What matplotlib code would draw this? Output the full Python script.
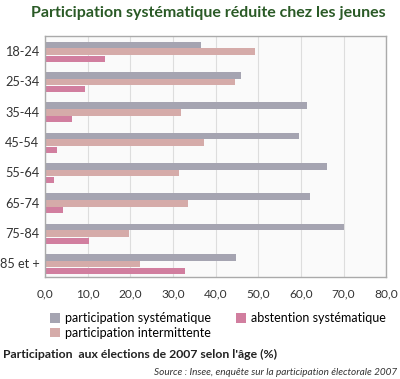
import numpy as np
import matplotlib.pyplot as plt

# data
ages = ['18-24', '25-34', '35-44', '45-54', '55-64', '65-74', '75-84', '85 et +']
particip_syst = [36.6, 46.0, 61.5, 59.6, 66.2, 62.1, 70.0, 44.8]
particip_inter = [49.2, 44.6, 31.9, 37.3, 31.4, 33.6, 19.6, 22.3]
abstention = [14.1, 9.3, 6.4, 2.9, 2.2, 4.2, 10.2, 32.9]
xticks = [0, 10, 20, 30, 40, 50, 60, 70, 80]

plt.rcParams['font.family'] = ['Lato', 'DejaVu Sans']

fig = plt.figure(figsize=(4, 3.79), dpi=100)
ax = fig.add_axes([0.1125, 0.269, 0.853, 0.636])
ax.set_facecolor('#fafafa')

y = np.arange(len(ages))
h = 0.22
ax.barh(y - 0.2, particip_syst, height=h, color='#a5a4b1', label='participation systématique')
ax.barh(y + 0.02, particip_inter, height=h, color='#d5aba9', label='participation intermittente')
ax.barh(y + 0.25, abstention, height=0.2, color='#d17e9f', label='abstention systématique')

ax.set_ylim(len(ages) - 0.55, -0.5)
ax.set_yticks(y)
ax.set_yticklabels(ages, fontsize=9.2, color='#333333')
ax.set_xlim(0, 80)
ax.set_xticks(xticks)
ax.set_xticklabels(['%d,0' % v for v in xticks], fontsize=8.6, color='#333333')
ax.tick_params(axis='y', length=0, pad=4)
ax.tick_params(axis='x', length=0, pad=8)
ax.grid(axis='x', color='#dddddd', linewidth=0.8)
ax.set_axisbelow(True)
for s in ax.spines.values():
    s.set_color('#aaaaaa')
    s.set_linewidth(1)

ax.legend(loc='upper left', bbox_to_anchor=(0.0, -0.125), ncol=2, frameon=False,
          fontsize=9, handlelength=0.8, handleheight=0.8, handletextpad=0.4,
          columnspacing=2.0, labelspacing=0.2, borderaxespad=0)

fig.text(0.52, 0.965, 'Participation systématique réduite chez les jeunes', ha='center', va='center',
         fontsize=11.5, fontweight='bold', color='#2a5a26')
fig.text(0.008, 0.065, "Participation  aux élections de 2007 selon l'âge (%)", ha='left', va='center',
         fontsize=8.8, fontweight='bold', color='#222222')
fig.text(0.993, 0.018, 'Source : Insee, enquête sur la participation électorale 2007', ha='right', va='center',
         fontsize=7.2, style='italic', color='#333333')

fig.savefig('out.png', dpi=100, facecolor='white')
